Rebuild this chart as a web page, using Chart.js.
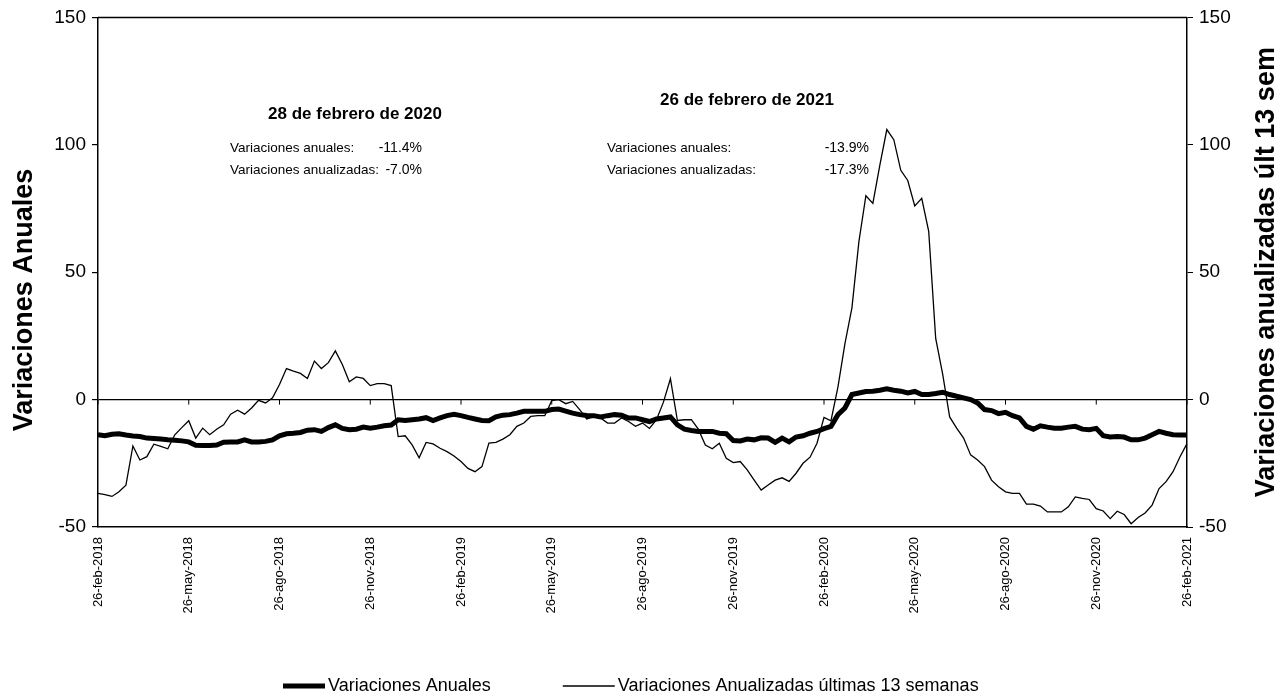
<!DOCTYPE html>
<html>
<head>
<meta charset="utf-8">
<script src="https://cdn.jsdelivr.net/npm/chart.js@4/dist/chart.umd.min.js"></script>
<style>
  html, body { margin: 0; padding: 0; background: #fff; }
  #wrap { width: 1287px; height: 700px; }
</style>
</head>
<body>
<div id="wrap"><canvas id="chart" width="1287" height="700"></canvas></div>
<script>
// etiquetas cada 13 semanas
const tickLabels = ['26-feb-2018', '26-may-2018', '26-ago-2018', '26-nov-2018', '26-feb-2019', '26-may-2019',
  '26-ago-2019', '26-nov-2019', '26-feb-2020', '26-may-2020', '26-ago-2020', '26-nov-2020', '26-feb-2021'];
const weeksBetweenTicks = 13;

// Variaciones anuales (eje izquierdo)
const anuales = [
  -13.8, -14.2, -13.6, -13.4, -13.9, -14.3, -14.5, -15.1, -15.3, -15.5, -15.8, -16.0, -16.2, -16.6, -17.9, -18.0,
  -18.0, -17.8, -16.7, -16.6, -16.6, -15.8, -16.6, -16.6, -16.4, -15.8, -14.2, -13.4, -13.2, -12.9, -12.0, -11.8,
  -12.5, -11.0, -9.9, -11.3, -11.8, -11.6, -10.8, -11.2, -10.8, -10.3, -10.0, -7.9, -8.2, -7.9, -7.6, -7.1,
  -8.2, -7.2, -6.3, -5.8, -6.3, -7.0, -7.6, -8.2, -8.3, -6.8, -6.1, -5.9, -5.3, -4.6, -4.6, -4.6,
  -4.6, -3.9, -3.7, -4.5, -5.3, -5.9, -6.2, -6.3, -6.8, -6.3, -5.9, -6.1, -7.2, -7.2, -7.9, -8.6,
  -7.6, -7.2, -6.8, -9.9, -11.6, -12.1, -12.5, -12.5, -12.5, -13.2, -13.4, -16.1, -16.2, -15.5, -15.8, -15.0,
  -15.1, -16.8, -15.1, -16.6, -14.7, -14.2, -13.2, -12.5, -11.4, -10.5, -5.9, -3.3, 2.0, 2.6, 3.2, 3.3,
  3.7, 4.2, 3.7, 3.3, 2.6, 3.2, 2.0, 2.0, 2.4, 2.9, 2.0, 1.3, 0.7, 0.0, -1.3, -3.9,
  -4.3, -5.5, -5.0, -6.3, -7.2, -10.5, -11.6, -10.3, -10.8, -11.2, -11.2, -10.8, -10.5, -11.6, -11.8, -11.3,
  -14.2, -14.7, -14.5, -14.7, -15.8, -15.8, -15.1, -13.8, -12.5, -13.2, -13.8, -13.9, -13.9
];

// Variaciones anualizadas últimas 13 semanas (eje derecho)
const ultimas13 = [
  -36.8, -37.3, -38.0, -36.2, -33.6, -18.2, -23.7, -22.4, -17.5, -18.4, -19.3, -13.8, -11.0, -8.3, -15.1, -11.2,
  -13.8, -11.6, -9.9, -5.7, -4.2, -5.7, -3.3, -0.3, -1.3, 0.7, 5.9, 12.2, 11.2, 10.3, 8.3, 15.1,
  12.2, 14.5, 19.1, 13.8, 7.0, 8.9, 8.3, 5.5, 6.3, 6.3, 5.5, -14.5, -14.2, -17.8, -22.8, -16.8,
  -17.4, -19.1, -20.4, -22.1, -24.3, -27.0, -28.3, -26.3, -17.1, -16.8, -15.5, -13.8, -10.5, -9.2, -6.6, -6.3,
  -6.3, -0.4, 0.0, -1.6, -0.7, -3.9, -7.6, -6.8, -7.2, -9.2, -9.2, -7.2, -8.6, -10.5, -9.2, -11.3,
  -7.9, -1.0, 8.2, -8.2, -7.9, -7.9, -11.6, -17.8, -19.3, -17.1, -23.0, -24.7, -24.3, -27.6, -31.6, -35.5,
  -33.5, -31.6, -30.7, -32.1, -28.9, -25.0, -22.6, -17.1, -7.0, -8.3, 5.0, 22.0, 36.0, 62.0, 80.0, 77.0,
  92.0, 106.0, 102.0, 90.0, 86.0, 76.0, 79.0, 66.0, 24.0, 10.0, -6.8, -11.2, -15.1, -21.7, -23.7, -26.3,
  -31.6, -34.2, -36.2, -36.8, -36.8, -41.0, -41.0, -41.8, -44.1, -44.1, -44.1, -42.1, -38.2, -38.8, -39.2, -42.8,
  -43.7, -46.7, -43.8, -45.1, -48.7, -46.3, -44.5, -41.4, -34.9, -32.2, -28.3, -22.4, -17.3
];

// cuadros de texto
const notaFechas = ['28 de febrero de 2020', '26 de febrero de 2021'];
const notaAnuales = ['-11.4%', '-13.9%'];
const notaAnualizadas = ['-7.0%', '-17.3%'];

const categorias = anuales.map((v, i) => i % weeksBetweenTicks === 0 ? tickLabels[i / weeksBetweenTicks] : '');

const FONT = "'Liberation Sans', Arial, sans-serif";
Chart.defaults.font.family = FONT;
Chart.defaults.color = '#000';

// borde superior + marcas sobre la linea del cero
const extras = {
  id: 'extras',
  afterDatasetsDraw(chart) {
    const { ctx, chartArea, scales } = chart;
    ctx.save();
    ctx.strokeStyle = '#000';
    ctx.lineWidth = 1.5;
    ctx.beginPath();
    ctx.moveTo(chartArea.left, chartArea.top);
    ctx.lineTo(chartArea.right, chartArea.top);
    ctx.stroke();

    const y0 = scales.y.getPixelForValue(0);
    ctx.lineWidth = 1;
    categorias.forEach((c, i) => {
      if (!c) return;
      const x = scales.x.getPixelForValue(i);
      ctx.beginPath();
      ctx.moveTo(x, y0);
      ctx.lineTo(x, y0 + 5);
      ctx.stroke();
    });
    ctx.restore();
  }
};

// titulos de ejes (ambos leidos de abajo hacia arriba), notas y leyenda
const textos = {
  id: 'textos',
  afterDraw(chart) {
    const { ctx, chartArea } = chart;
    ctx.save();
    ctx.fillStyle = '#000';
    ctx.textBaseline = 'middle';

    const ejes = [
      { text: 'Variaciones Anuales', x: 25, y: 300, size: 27 },
      { text: 'Variaciones anualizadas últ 13 sem', x: 1267, y: (chartArea.top + chartArea.bottom) / 2, size: 27 }
    ];
    ejes.forEach(t => {
      ctx.save();
      ctx.translate(t.x, t.y);
      ctx.rotate(-Math.PI / 2);
      ctx.textAlign = 'center';
      ctx.font = `bold ${t.size}px ${FONT}`;
      ctx.fillText(t.text, 0, 0);
      ctx.restore();
    });

    const bloques = [
      { cx: 355, ty: 114, lx: 230, rx: 422 },
      { cx: 747, ty: 100, lx: 607, rx: 869 }
    ];
    bloques.forEach((b, k) => {
      ctx.font = `bold 17px ${FONT}`;
      ctx.textAlign = 'center';
      ctx.fillText(notaFechas[k], b.cx, b.ty);
      ctx.font = `13.5px ${FONT}`;
      ctx.textAlign = 'left';
      ctx.fillText('Variaciones anuales:', b.lx, 148);
      ctx.fillText('Variaciones anualizadas:', b.lx, 170);
      ctx.font = `14px ${FONT}`;
      ctx.textAlign = 'right';
      ctx.fillText(notaAnuales[k], b.rx, 148);
      ctx.fillText(notaAnualizadas[k], b.rx, 170);
    });

    // leyenda
    const ly = 686;
    const muestras = [42, 52];
    let x = 283;
    ctx.font = `18px ${FONT}`;
    ctx.textAlign = 'left';
    chart.data.datasets.forEach((ds, k) => {
      ctx.strokeStyle = ds.borderColor;
      ctx.lineWidth = ds.borderWidth;
      ctx.beginPath();
      ctx.moveTo(x, ly);
      ctx.lineTo(x + muestras[k], ly);
      ctx.stroke();
      x += muestras[k] + 3;
      ctx.fillText(ds.label, x, ly);
      x += ctx.measureText(ds.label).width + 72;
    });
    ctx.restore();
  }
};

new Chart(document.getElementById('chart'), {
  type: 'line',
  data: {
    labels: categorias,
    datasets: [
      {
        label: 'Variaciones Anuales',
        data: anuales,
        yAxisID: 'y',
        borderColor: '#000',
        backgroundColor: '#000',
        borderWidth: 5,
        pointRadius: 0,
        tension: 0
      },
      {
        label: 'Variaciones Anualizadas últimas 13 semanas',
        data: ultimas13,
        yAxisID: 'y2',
        borderColor: '#000',
        backgroundColor: '#000',
        borderWidth: 1.3,
        pointRadius: 0,
        tension: 0
      }
    ]
  },
  options: {
    responsive: false,
    animation: false,
    layout: { padding: { top: 17, left: 0, right: 0, bottom: 0 } },
    plugins: {
      legend: { display: false },
      tooltip: { enabled: false }
    },
    scales: {
      x: {
        type: 'category',
        grid: { display: false, drawTicks: false },
        border: { color: '#000', width: 1.5 },
        ticks: {
          autoSkip: false,
          minRotation: 90,
          maxRotation: 90,
          padding: 10,
          font: { size: 13 },
          color: '#000'
        },
        afterFit: s => { s.height = 173; }
      },
      y: {
        position: 'left',
        min: -50,
        max: 150,
        border: { color: '#000', width: 1.5 },
        grid: {
          color: c => c.tick.value === 0 ? '#000' : 'rgba(0,0,0,0)',
          lineWidth: 1.2,
          tickColor: '#000',
          tickLength: 6
        },
        ticks: { stepSize: 50, padding: 6, font: { size: 19 }, color: '#000' },
        afterFit: s => { s.width = 98; }
      },
      y2: {
        position: 'right',
        min: -50,
        max: 150,
        border: { color: '#000', width: 1.5 },
        grid: { drawOnChartArea: false, tickColor: '#000', tickLength: 6 },
        ticks: { stepSize: 50, padding: 6, font: { size: 19 }, color: '#000' },
        afterFit: s => { s.width = 100; }
      }
    }
  },
  plugins: [extras, textos]
});
</script>
</body>
</html>
